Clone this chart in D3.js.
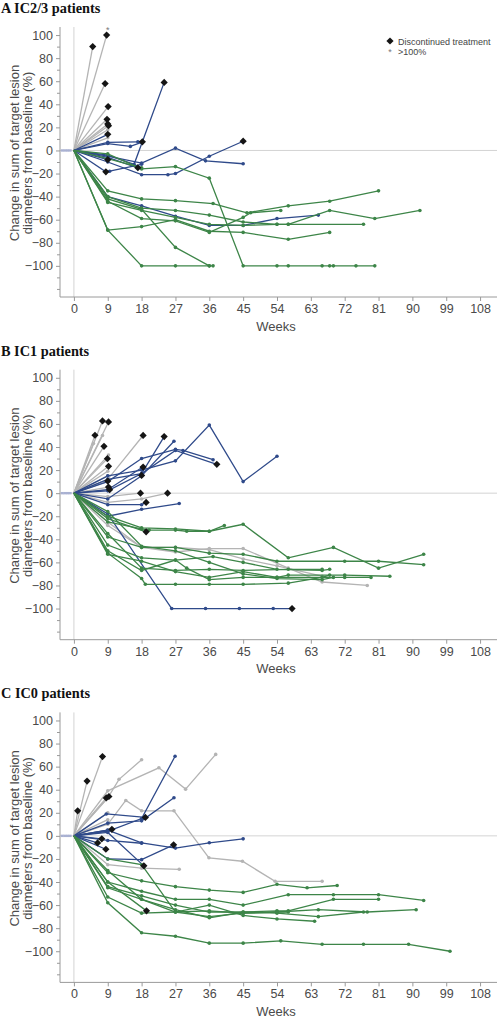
<!DOCTYPE html>
<html><head><meta charset="utf-8">
<script src="https://cdn.jsdelivr.net/npm/d3@7"></script>
<style>body{margin:0;background:#fff}svg{display:block}</style>
</head><body>
<svg id="c" width="503" height="1019"></svg>
<script>
// ---------- data ----------
const panelTitles = ["A IC2/3 patients", "B IC1 patients", "C IC0 patients"];
const weekTicks = [0, 9, 18, 27, 36, 45, 54, 63, 72, 81, 90, 99, 108];
const yTicks = [-100, -80, -60, -40, -20, 0, 20, 40, 60, 80, 100];
const yMinorTicks = [-120, -110, -90, -70, -50, -30, -10, 10, 30, 50, 70, 90];
const preBaseline = [-3.1, -2.4, -1.7, -1.0];

// Panel A (IC2/3)
const grayA = [
  [[0,0],[5,90]], [[0,0],[8.7,100]], [[0,0],[8.3,58]], [[0,0],[9.1,38]],
  [[0,0],[8.8,27]], [[0,0],[9,23]], [[0,0],[9.2,21.5]], [[0,0],[9,18]], [[0,0],[9,11]]
];
const blueA = [
  [[0,0],[9,14]],
  [[0,0],[9,7],[17,7.5],[18.2,7.5]],
  [[0,0],[9,6],[15,3.5],[18,7]],
  [[0,0],[9,-4],[16,-12],[24,59]],
  [[0,0],[9,-5],[18,-11],[27,2],[35,-9],[45,-11.5]],
  [[0,0],[9,-10],[18,-21],[25,-21],[27,-20],[36,-5],[45,8]],
  [[0,0],[9,-8]],
  [[0,0],[8.5,-18.5],[9.5,-18],[18,-12]],
  [[0,0],[9,-6],[17,-15]],
  [[0,0],[9,-40],[18,-48],[27,-57],[36,-65],[45,-65],[54,-59],[65,-56]]
];
const greenA = [
  [[0,0],[9,-3],[18,-16],[27,-14],[36,-24],[45,-100],[54,-100],[57,-100],[66,-100],[68,-100],[69,-100],[75,-100],[80,-100]],
  [[0,0],[9,-7],[18,-15]],
  [[0,0],[9,-69],[18,-100],[27,-100],[36,-100],[37,-100]],
  [[0,0],[9,-69],[18,-66],[27,-60],[36,-70],[45,-71],[57,-77],[68,-71]],
  [[0,0],[9,-35],[18,-42],[27,-43.5],[37,-46],[46,-54],[57,-48],[68,-44],[81,-35]],
  [[0,0],[9,-40],[18,-50],[27,-52],[36,-56],[45,-62],[54,-64],[57,-64],[77,-64]],
  [[0,0],[9,-44],[18,-59],[27,-61],[36,-71],[45,-58],[47,-54],[55,-52]],
  [[0,0],[9,-42],[18,-51],[27,-84],[36,-100]],
  [[0,0],[9,-45],[18,-52],[27,-58],[36,-64],[45,-65],[54,-64],[57,-64],[68,-52],[80,-59],[92,-52]]
];
const diamondsA = [[5,90],[8.7,100],[8.3,58],[9.1,38],[8.8,27],[9,23],[9.2,21.5],[9,14],[18.2,7.5],[24,59],[45,8],[9,-8],[8.5,-18.5],[17,-15]];
const starsA = [[9,105]];

// Panel B (IC1)
const grayB = [
  [[0,0],[7.6,62.6]], [[0,0],[9.2,61.7]], [[0,0],[5.6,50.2]], [[0,0],[7.6,50]], [[0,0],[5.2,43]],
  [[0,0],[8,40.6]], [[0,0],[8.9,29.9]], [[0,0],[9.2,33]], [[0,0],[9.2,23.3]], [[0,0],[9,10.5]],
  [[0,0],[9.2,5.3]], [[0,0],[9.5,3]], [[0,0],[9,15]], [[0,0],[9,19]],
  [[0,0],[9,12],[18.4,50]],
  [[0,0],[9,-3],[17.7,0]],
  [[0,0],[9,-8],[18,-5],[24.9,0]],
  [[0,0],[9,-25],[18,-47],[27,-51],[36,-48],[45,-48],[57,-65],[66,-77],[78,-80]],
  [[0,0],[9,-28],[18,-47],[27,-47],[36,-49],[45,-57],[54,-63],[66,-72]]
];
const blueB = [
  [[0,0],[9,15],[18,20],[27,28],[36,59],[45,10],[54,32]],
  [[0,0],[9,10],[18,30],[27,38],[29,37],[37,29]],
  [[0,0],[9,12],[18,17],[27,37],[38,25]],
  [[0,0],[9,2],[18,17],[24,49]],
  [[0,0],[9,-5],[18,15],[26.6,45]],
  [[0,0],[9,3],[18,22],[18.4,22.6]],
  [[0,0],[9,-20],[18,-14],[28,-9]],
  [[0,0],[9,-18],[26,-100],[35,-100],[44,-100],[53,-100],[58,-100]],
  [[0,0],[9,-10],[18,-10],[19.2,-8]]
];
const greenB = [
  [[0,0],[9,-20],[18,-30],[27,-31],[36,-33],[45,-27],[57,-56],[69,-47],[81,-65],[93,-53]],
  [[0,0],[9,-25],[18,-31],[20,-32],[27,-32],[30,-33],[36,-33],[40,-28]],
  [[0,0],[9,-38],[18,-47],[27,-47],[36,-52],[45,-53],[54,-59],[72,-59],[81,-59],[93,-62]],
  [[0,0],[9,-45],[18,-56],[27,-58],[37,-55],[45,-60],[54,-66],[66,-67],[68,-66]],
  [[0,0],[9,-53],[18,-59],[27,-68],[36,-73],[45,-68],[54,-73],[72,-73],[79,-73]],
  [[0,0],[9,-52],[18,-74],[19,-79],[27,-79],[36,-79],[45,-79],[57,-78],[66,-73],[68,-71]],
  [[0,0],[9,-50],[18,-67],[27,-58],[30,-65],[36,-75],[45,-73],[54,-73],[57,-71],[72,-71],[84,-72]],
  [[0,0],[9,-35],[18,-65],[27,-67],[36,-66],[45,-67],[57,-66],[66,-66]],
  [[0,0],[9,-16],[18,-46],[27,-50],[36,-60],[45,-70],[54,-74],[66,-75],[69,-73]],
  [[0,0],[9,-22],[19.2,-33.5]]
];
const diamondsB = [[7.6,62.6],[9.2,61.7],[5.6,50.2],[8,40.6],[8.9,29.9],[9.2,23.3],[9,10.5],[9.2,5.3],[9.5,3],
  [18.4,50],[24,49],[18.4,22.6],[18,15.4],[38,25],[17.7,0],[24.9,0],[19.2,-8],[19.2,-33.5],[58,-100]];
const starsB = [];

// Panel C (IC0)
const grayC = [
  [[0,0],[1,21.7]], [[0,0],[3.5,47.5]], [[0,0],[7.6,68.7]], [[0,0],[8.6,32.9]], [[0,0],[9.3,34.1]],
  [[0,0],[9,5]], [[0,0],[9,14]], [[0,0],[9,20]],
  [[0,0],[9,33],[12,49],[18,66]],
  [[0,0],[9,39],[22.6,59],[29.7,40.5],[37.7,70.6]],
  [[0,0],[9,10],[13.8,30.7],[18,21.7],[26.6,21.7],[35.9,-19],[44.8,-22],[53.5,-39.4],[66,-39.4]],
  [[0,0],[9,-25],[18,-28],[28,-29]]
];
const blueC = [
  [[0,0],[9,4],[18,15],[26.9,69]],
  [[0,0],[8.6,19],[19,16]],
  [[0,0],[9,11],[18,13],[26.6,33]],
  [[0,0],[10.1,5.7]],
  [[0,0],[9,5],[18,-6],[27,-10.6],[36,-6],[45,-2.6]],
  [[0,0],[9,-20],[18,-20.6],[26.5,-7.8]],
  [[0,0],[9,-4],[18,-6.4]],
  [[0,0],[6.3,-6.1]], [[0,0],[7.4,-2.6]], [[0,0],[8.5,-11.6]],
  [[0,0],[9,3],[18.6,-26]]
];
const greenC = [
  [[0,0],[9,-58],[18,-84],[27,-87],[36,-93],[45,-93],[55,-91],[66,-94],[77,-94],[89,-94],[100,-100]],
  [[0,0],[9,-32],[18,-39],[27,-44],[36,-47],[45,-49],[54,-42],[62,-45],[70,-43]],
  [[0,0],[9,-40],[18,-48],[27,-55],[36,-55],[45,-60],[57,-51],[69,-51],[81,-51],[93,-56]],
  [[0,0],[9,-44],[18,-52],[27,-60],[36,-66],[45,-66],[54,-65],[57,-65],[69,-55],[81,-55]],
  [[0,0],[9,-53],[18,-67],[27,-66],[36,-65],[45,-67],[54,-66],[65,-64],[78,-66],[91,-64]],
  [[0,0],[9,-45],[18,-55],[27,-64],[36,-71],[45,-66],[54,-67],[65,-70],[77,-66]],
  [[0,0],[9,-40],[19.3,-65]],
  [[0,0],[9,-20],[18,-25],[27,-66],[36,-60],[45,-69],[54,-72],[64,-74]],
  [[0,0],[9,-30],[18,-55],[27,-66],[36,-70],[45,-67],[54,-66],[57,-66]]
];
const diamondsC = [[1,21.7],[3.5,47.5],[7.6,68.7],[8.6,32.9],[9.3,34.1],[10.1,5.7],[19,16],
  [6.3,-6.1],[7.4,-2.6],[8.5,-11.6],[18.6,-26],[26.5,-7.8],[19.3,-65]];
const starsC = [];

// ---------- drawing ----------
const panels = [
  {title: panelTitles[0], gray: grayA, blue: blueA, green: greenA, diamonds: diamondsA, stars: starsA, legend: true},
  {title: panelTitles[1], gray: grayB, blue: blueB, green: greenB, diamonds: diamondsB, stars: starsB, legend: false},
  {title: panelTitles[2], gray: grayC, blue: blueC, green: greenC, diamonds: diamondsC, stars: starsC, legend: false}
];
const colors = {gray: "#b4b4b4", blue: "#2f4a8a", green: "#3d8548"};
const panelStep = 342.7;
const svg = d3.select("#c");
const x = d3.scaleLinear().domain([-3.7, 112.5]).range([60, 497]);
const font = "Liberation Sans, Arial, sans-serif";
const diamond = d3.symbol().type(d3.symbolSquare).size(26);

panels.forEach((p, i) => {
  const g = svg.append("g").attr("transform", `translate(0,${i * panelStep})`);
  const y = d3.scaleLinear().domain([-127, 107]).range([297, 27]);

  g.append("text").attr("x", 1).attr("y", 13)
    .style("font-family", "Liberation Serif, Times New Roman, serif")
    .style("font-weight", "bold").style("font-size", "14.3px").attr("fill", "#111")
    .text(p.title);

  // reference lines
  g.append("line").attr("x1", 60).attr("x2", 497).attr("y1", y(0)).attr("y2", y(0))
    .attr("stroke", "#d4d4d4").attr("stroke-width", 1);
  g.append("line").attr("x1", x(0)).attr("x2", x(0)).attr("y1", y(107)).attr("y2", y(-127))
    .attr("stroke", "#d4d4d4").attr("stroke-width", 1);

  // axes
  const ay = g.append("g").attr("transform", "translate(60,0)")
    .call(d3.axisLeft(y).tickValues(yTicks).tickSize(4).tickPadding(3).tickFormat(d3.format("d")));
  const ayMinor = g.append("g").attr("transform", "translate(60,0)")
    .call(d3.axisLeft(y).tickValues(yMinorTicks).tickSize(3).tickFormat(""));
  ayMinor.select(".domain").remove();
  const ax = g.append("g").attr("transform", "translate(0,297)")
    .call(d3.axisBottom(x).tickValues(weekTicks).tickSize(4).tickPadding(3).tickSizeOuter(0));
  [ay, ayMinor, ax].forEach(a => {
    a.selectAll("path").attr("stroke", "#9a9a9a");
    a.selectAll("line").attr("stroke", "#9a9a9a");
    a.selectAll("text").attr("fill", "#4a4a4a").style("font-family", font).style("font-size", "12.5px");
  });
  ay.select(".domain").attr("d", `M0,${y(107)}V${y(-127)}`);
  ax.select(".domain").attr("d", `M60,0H497`);

  // axis titles
  g.append("text").attr("x", 276).attr("y", 330.5).attr("text-anchor", "middle")
    .style("font-family", font).style("font-size", "13px").attr("fill", "#4a4a4a").text("Weeks");
  const yt = g.append("text").attr("transform", "translate(0,153) rotate(-90)")
    .attr("text-anchor", "middle").style("font-family", font).style("font-size", "13px").attr("fill", "#4a4a4a");
  yt.append("tspan").attr("x", 0).attr("y", 19).text("Change in sum of target lesion");
  yt.append("tspan").attr("x", 0).attr("y", 32).text("diameters from baseline (%)");

  // pre-baseline assessments
  g.selectAll(".pre").data(preBaseline).join("rect")
    .attr("x", d => x(d) - 1.5).attr("y", y(0) - 1.2).attr("width", 3).attr("height", 2.4)
    .attr("fill", "#a9b1d2");

  const line = d3.line().x(d => x(d[0])).y(d => y(d[1]));
  ["gray", "blue", "green"].forEach(k => {
    const grp = g.append("g");
    p[k].forEach(s => {
      grp.append("path").attr("d", line(s)).attr("fill", "none")
        .attr("stroke", colors[k]).attr("stroke-width", 1.3);
      grp.selectAll(null).data(s.slice(1)).join("circle")
        .attr("cx", d => x(d[0])).attr("cy", d => y(d[1])).attr("r", 1.8).attr("fill", colors[k]);
    });
  });

  g.selectAll(".dm").data(p.diamonds).join("path")
    .attr("d", diamond).attr("transform", d => `translate(${x(d[0])},${y(d[1])}) rotate(45)`).attr("fill", "#151515");
  g.selectAll(".st").data(p.stars).join("text")
    .attr("x", d => x(d[0])).attr("y", d => y(d[1]) + 4).attr("text-anchor", "middle")
    .style("font-family", font).style("font-size", "9px").attr("fill", "#777").text("*");

  if (p.legend) {
    g.append("path").attr("d", diamond).attr("transform", "translate(390,41) rotate(45)").attr("fill", "#151515");
    g.append("text").attr("x", 398).attr("y", 44.5).style("font-family", font).style("font-size", "9px")
      .attr("fill", "#444").text("Discontinued treatment");
    g.append("text").attr("x", 390).attr("y", 55).attr("text-anchor", "middle").style("font-family", font)
      .style("font-size", "9px").attr("fill", "#777").text("*");
    g.append("text").attr("x", 398).attr("y", 54.5).style("font-family", font).style("font-size", "9px")
      .attr("fill", "#444").text(">100%");
  }
});
</script>
</body></html>
